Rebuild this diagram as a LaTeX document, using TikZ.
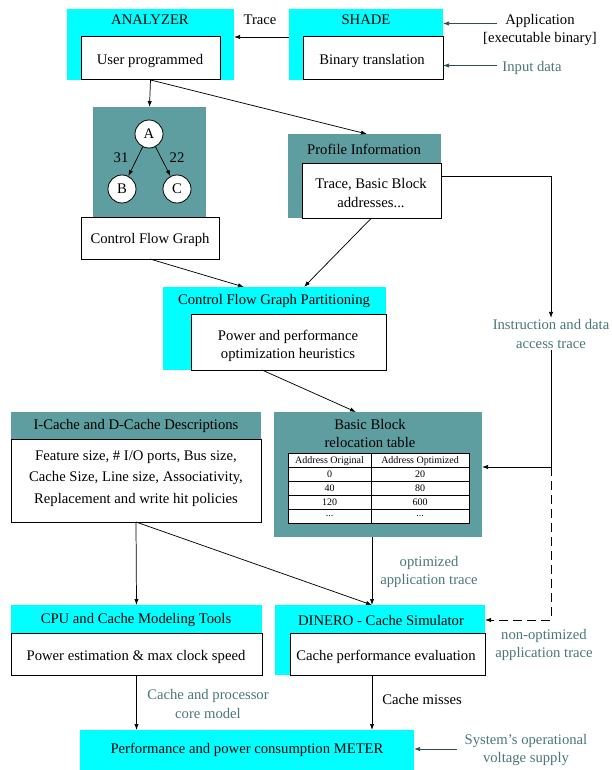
\documentclass[tikz,border=0pt]{standalone}
\usepackage{fontspec}
\setmainfont{Liberation Serif}
\usetikzlibrary{arrows.meta,fit}
\definecolor{cy}{HTML}{00FFFF}
\definecolor{tl}{HTML}{5F9EA0}
\definecolor{lt}{HTML}{4A7676}
\definecolor{dk}{HTML}{2F4F4F}
\begin{document}
\begin{tikzpicture}[x=0.75pt,y=-0.75pt,
  font=\fontsize{11}{14}\selectfont,
  box/.style={inner sep=0pt,outer sep=0pt},
  cyanbox/.style={box,fill=cy},
  tealbox/.style={box,fill=tl},
  whitebox/.style={box,draw,fill=white,line width=0.75pt},
  ttl/.style={inner sep=1pt,align=center},
  txt/.style={inner sep=1pt,align=center},
  arr/.style={-{Latex[length=4.5pt,width=3.2pt]},line width=0.55pt},
  lbl/.style={align=center,text=lt,inner sep=1pt},
  blbl/.style={align=center,inner sep=1pt},
  cell/.style={inner sep=0pt,font=\fontsize{7.5}{9}\selectfont},
  gnode/.style={circle,draw,fill=white,line width=0.6pt,minimum size=21pt,inner sep=0pt}]
\useasboundingbox (0,0) rectangle (611,770);

% ANALYZER
\node[cyanbox,fit={(67,9)(234,80)}] (anOut) {};
\node[ttl] (anT) at (150,20) {ANALYZER};
\node[whitebox,fit={(81,37)(220,80)}] (anIn) {};
\node[txt] (anTx) at (150,61) {User programmed};
% SHADE
\node[cyanbox,fit={(289,9)(443,80)}] (shOut) {};
\node[ttl] (shT) at (366,20) {SHADE};
\node[whitebox,fit={(303,37)(443,80)}] (shIn) {};
\node[txt] (shTx) at (372,61) {Binary translation};
\node[blbl] (trace) at (260,19.5) {Trace};
\draw[arr] (shOut.west |- shIn.north) -- (anOut.east |- shIn.north);
% Inputs
\node[blbl] (app) at (540,30) {Application\\{}[executable binary]};
\coordinate (appS) at (497,23.5);
\draw[arr,draw=dk] (appS) -- (shOut.east |- appS);
\node[lbl] (inp) at (532,67.5) {Input data};
\coordinate (inpS) at (497,65.5);
\draw[arr,draw=dk] (inpS) -- (shIn.east |- inpS);

% CFG
\node[tealbox,fit={(93,107)(206,217)}] (cfg) {};
\node[gnode] (A) at (149,134) {A};
\node[gnode] (B) at (122,189) {B};
\node[gnode] (C) at (177,189) {C};
\draw[arr] (A) -- (B);
\draw[arr] (A) -- (C);
\node[blbl] (w31) at (121,158) {31};
\node[blbl] (w22) at (177,158) {22};
\node[whitebox,fit={(81,217)(219,259)}] (cfgIn) {};
\node[txt] (cfgTx) at (150,240) {Control Flow Graph};
\draw[arr] (anIn.south) -- (cfg.north);

% Profile
\node[tealbox,fit={(288,134)(441,218)}] (prof) {};
\node[ttl] (prT) at (364,149) {Profile Information};
\node[whitebox,fit={(302,163)(441,218)}] (prIn) {};
\node[txt] (prTx) at (371,193) {Trace, Basic Block\\addresses...};
\coordinate (prN) at (367,134);
\draw[arr] (anIn.south) -- (prN);

% CFG partitioning
\node[cyanbox,fit={(163,287)(386,370)}] (cfgp) {};
\node[ttl] (cpT) at (274,301) {Control Flow Graph Partitioning};
\node[whitebox,fit={(191,314)(386,370)}] (cpIn) {};
\node[txt] (cpTx) at (288,346) {Power and performance\\optimization heuristics};
\coordinate (cpL) at (244,287);
\coordinate (cpR) at (304,287);
\draw[arr] (cfgIn.south) -- (cpL);
\draw[arr] (prIn.south) -- (cpR);

% Right trace path
\coordinate (rt1) at (551,176);
\node[lbl] (iat) at (551,334) {Instruction and data\\access trace};
\coordinate (rt2) at (551,467);
\coordinate (rt3) at (551,620);
\draw[arr] (prIn.east |- rt1) -- (rt1) -- (iat.north);

% I-Cache
\node[tealbox,fit={(11,412)(261,439)}] (ic) {};
\node[ttl] (icT) at (136,426) {I-Cache and D-Cache Descriptions};
\node[whitebox,fit={(11,439)(261,522)}] (icIn) {};
\node[txt,font=\fontsize{11}{16.2}\selectfont] (icTx) at (136,478.5) {Feature size, \# I/O ports, Bus size,\\Cache Size, Line size, Associativity,\\Replacement and write hit policies};

% Basic block table
\node[tealbox,fit={(274,412)(482,537)}] (bb) {};
\node[ttl,font=\fontsize{11}{13.5}\selectfont] (bbT) at (370,433) {Basic Block\\relocation table};
\node[box,draw,fill=white,line width=0.75pt,fit={(288,453)(469,523)}] (tbl) {};
\foreach \yy in {467,481,495,509} \draw[line width=0.75pt] (288,\yy) -- (469,\yy);
\draw[line width=0.75pt] (371,453) -- (371,523);
\node[cell] (h1) at (329.5,461) {Address Original};
\node[cell] (h2) at (420,461) {Address Optimized};
\node[cell] (r1a) at (329.5,474.5) {0};
\node[cell] (r1b) at (420,474.5) {20};
\node[cell] (r2a) at (329.5,488.5) {40};
\node[cell] (r2b) at (420,488.5) {80};
\node[cell] (r3a) at (329.5,502.5) {120};
\node[cell] (r3b) at (420,502.5) {600};
\node[cell] (r4a) at (329.5,516) {...};
\node[cell] (r4b) at (420,516) {...};
\coordinate (cpS) at (262,370);
\coordinate (bbN) at (356,412);
\draw[arr] (cpS) -- (bbN);
\draw (iat.south) -- (rt2);
\draw[arr] (rt2) -- (bb.east |- rt2);

% CPU
\node[cyanbox,fit={(11,605)(262,675)}] (cpu) {};
\node[ttl] (cpuT) at (136,619.5) {CPU and Cache Modeling Tools};
\node[whitebox,fit={(11,633)(262,675)}] (cpuIn) {};
\node[txt] (cpuTx) at (136,657) {Power estimation \& max clock speed};
% DINERO
\node[cyanbox,fit={(275,605)(485,675)}] (di) {};
\node[ttl] (diT) at (381,620.5) {DINERO - Cache Simulator};
\node[whitebox,fit={(290,633)(485,675)}] (diIn) {};
\node[txt] (diTx) at (386,657) {Cache performance evaluation};

\coordinate (bbS) at (372,537);
\coordinate (diN) at (372,605);
\draw[arr] (icIn.south) -- (cpu.north);
\draw[arr] (icIn.south) -- (diN);
\draw[arr] (bbS) -- (diN);
\node[lbl] (opt) at (429,572) {optimized\\application trace};
\draw[arr,dash pattern=on 7pt off 3.5pt] (rt2) -- (rt3) -- (di.east |- rt3);
\node[lbl] (nopt) at (544,645) {non-optimized\\application trace};

% METER
\node[cyanbox,fit={(80,730)(414,770)}] (meter) {};
\node[txt] (mTx) at (247,750) {Performance and power consumption METER};
\draw[arr] (cpuIn.south) -- (cpuIn.south |- meter.north);
\draw[arr] (bbS |- diIn.south) -- (bbS |- meter.north);
\node[lbl] (cpm) at (208,704) {Cache and processor\\core model};
\node[blbl] (cm) at (422,699) {Cache misses};
\node[lbl] (sys) at (526,750) {System's operational\\voltage supply};
\coordinate (sysS) at (457,749);
\draw[arr,draw=dk] (sysS) -- (meter.east |- sysS);
\end{tikzpicture}
\end{document}
